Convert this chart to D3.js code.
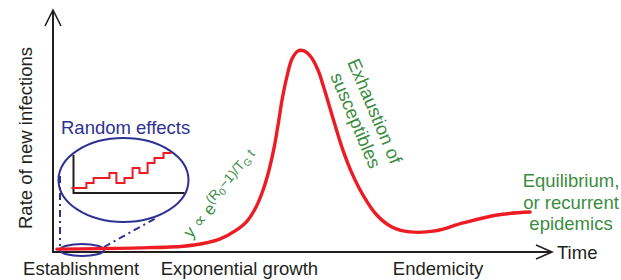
<!DOCTYPE html>
<html>
<head>
<meta charset="utf-8">
<script src="https://cdn.jsdelivr.net/npm/d3@7"></script>
<style>
  html, body { margin: 0; padding: 0; background: #fff; }
  svg { display: block; font-family: "Liberation Sans", Arial, Helvetica, sans-serif; }
</style>
</head>
<body>
<svg id="chart" width="621" height="280"></svg>
<script>
// ---- Data ----
const timePoints = [0.8, 9.4, 17.4, 26.1, 30.1, 33.5, 36.5, 38.9, 40.7, 42.1, 43.3, 44.3, 45.1, 45.9, 46.9, 47.9, 49.1, 50.3, 51.7, 53.1, 54.3, 55.5, 56.7, 58.1, 59.9, 62.1, 64.7, 67.9, 71.5, 76.6, 82.2, 89.0, 95.6];
const rateValues = [1.2, 1.4, 1.7, 2.4, 3.5, 5.4, 8.7, 12.8, 18.6, 25.6, 33.9, 43.0, 52.5, 62.8, 72.7, 79.8, 83.1, 83.1, 80.6, 75.2, 67.8, 59.5, 51.2, 42.1, 32.6, 23.6, 15.7, 10.3, 8.3, 8.7, 12.0, 15.3, 16.5];

// inset ("Random effects") step series
const stepTimes  = [-0.7, 4.3, 6.7, 12, 14.3, 17, 19.7, 22, 24.7, 27, 30, 32.7];
const stepCounts = [1, 2, 3, 4, 2, 3, 5, 4, 6, 7, 8, 8];

const phaseLabels = ["Establishment", "Exponential growth", "Endemicity"];
const phaseStarts = [-6.0, 21.6, 68.1];
const axisTitleY = "Rate of new infections";
const axisTitleX = "Time";
const insetTitle = "Random effects";
const peakNote = ["Exhaustion of", "susceptibles"];
const endNote = ["Equilibrium,", "or recurrent", "epidemics"];

// ---- Styles / layout ----
const RED = "#ed1c24", BLUE = "#2e3192", GREEN = "#3a8d3f", INK = "#231f20";
const svg = d3.select("#chart");
const x = d3.scaleLinear().domain([0, 100]).range([53, 552]);
const y = d3.scaleLinear().domain([0, 100]).range([252, 10]);

// inset scales
const ix = d3.scaleLinear().domain([0, 37]).range([73.5, 184.5]);
const iy = d3.scaleLinear().domain([0, 8]).range([193, 153]);

// ---- Axes with open arrowheads ----
const ax = svg.append("g").attr("stroke", INK).attr("stroke-width", 2).attr("fill", "none");
ax.append("line").attr("x1", x(0)).attr("y1", y(0)).attr("x2", x(0)).attr("y2", y(100) + 1);
ax.append("line").attr("x1", x(0) - 1).attr("y1", y(0)).attr("x2", x(100)).attr("y2", y(0));
ax.append("path").attr("stroke-width", 1.6)
  .attr("d", `M${x(0) - 8},${y(100) + 16} L${x(0)},${y(100)} L${x(0) + 8},${y(100) + 16}`);
ax.append("path").attr("stroke-width", 1.6)
  .attr("d", `M${x(100) - 16},${y(0) - 7} L${x(100)},${y(0)} L${x(100) - 16},${y(0) + 7}`);

// ---- Annotations: ellipses and dash-dot leader lines ----
const ann = svg.append("g").attr("stroke", BLUE).attr("fill", "none");
ann.append("line").attr("x1", 60).attr("y1", 176).attr("x2", 60).attr("y2", 246)
  .attr("stroke-width", 2).attr("stroke-dasharray", "7,4,2,4");
ann.append("line").attr("x1", 104).attr("y1", 247).attr("x2", 158).attr("y2", 217)
  .attr("stroke-width", 2).attr("stroke-dasharray", "7,4,2,4");

// main curve
const line = d3.line().x((d, i) => x(timePoints[i])).y((d, i) => y(rateValues[i]))
  .curve(d3.curveCatmullRom.alpha(0.5));
svg.append("path").datum(rateValues).attr("d", line)
  .attr("fill", "none").attr("stroke", RED).attr("stroke-width", 3.4)
  .attr("stroke-linecap", "round").attr("stroke-linejoin", "round");

ann.append("ellipse").attr("cx", 82).attr("cy", 250).attr("rx", 22).attr("ry", 6).attr("stroke-width", 2);
ann.append("ellipse").attr("cx", 123.5).attr("cy", 180).attr("rx", 65).attr("ry", 42).attr("stroke-width", 2);

// inset axes
const ins = svg.append("g").attr("fill", "none");
ins.append("path").attr("stroke", INK).attr("stroke-width", 2)
  .attr("d", `M${ix(0)},${iy(8) + 2} L${ix(0)},${iy(0)} L${ix(37)},${iy(0)}`);
const stepLine = d3.line().x((d, i) => ix(stepTimes[i])).y((d, i) => iy(stepCounts[i])).curve(d3.curveStepAfter);
ins.append("path").datum(stepCounts).attr("d", stepLine)
  .attr("stroke", RED).attr("stroke-width", 2);

// ---- Text ----
const T = svg.append("g").attr("font-size", "18.5px");
T.append("text").text(axisTitleY).attr("fill", INK)
  .attr("text-anchor", "middle").attr("transform", "translate(32,138) rotate(-90)");
T.append("text").text(axisTitleX).attr("fill", INK).attr("x", 557).attr("y", 258.5);
T.selectAll("text.phase").data(phaseLabels).join("text").attr("class", "phase")
  .attr("fill", INK).attr("x", (d, i) => x(phaseStarts[i])).attr("y", 275).text(d => d);
T.append("text").text(insetTitle).attr("fill", BLUE).attr("x", 61).attr("y", 134);

T.selectAll("text.endnote").data(endNote).join("text").attr("class", "endnote")
  .attr("fill", GREEN).attr("text-anchor", "middle").attr("x", 571)
  .attr("y", (d, i) => 187 + i * 21.6).text(d => d);

const peakStarts = [[347, 62], [330, 76]];
T.selectAll("text.peak").data(peakNote).join("text").attr("class", "peak")
  .attr("fill", GREEN)
  .attr("transform", (d, i) => `translate(${peakStarts[i][0]},${peakStarts[i][1]}) rotate(67)`)
  .text(d => d);

// growth formula  y ∝ e^{(R0−1)/TG t}
const f = svg.append("text").attr("fill", GREEN).attr("font-size", "17px")
  .attr("transform", "translate(191,239) rotate(-49)");
f.append("tspan").text("y \u221D e");
f.append("tspan").attr("font-size", "13.5px").attr("dy", -7).text("(R");
f.append("tspan").attr("font-size", "10px").attr("dy", 3).text("0");
f.append("tspan").attr("font-size", "13.5px").attr("dy", -3).text("\u22121)/T");
f.append("tspan").attr("font-size", "10px").attr("dy", 3).text("G");
f.append("tspan").attr("font-size", "13.5px").attr("dy", -3).text(" t");
</script>
</body>
</html>
